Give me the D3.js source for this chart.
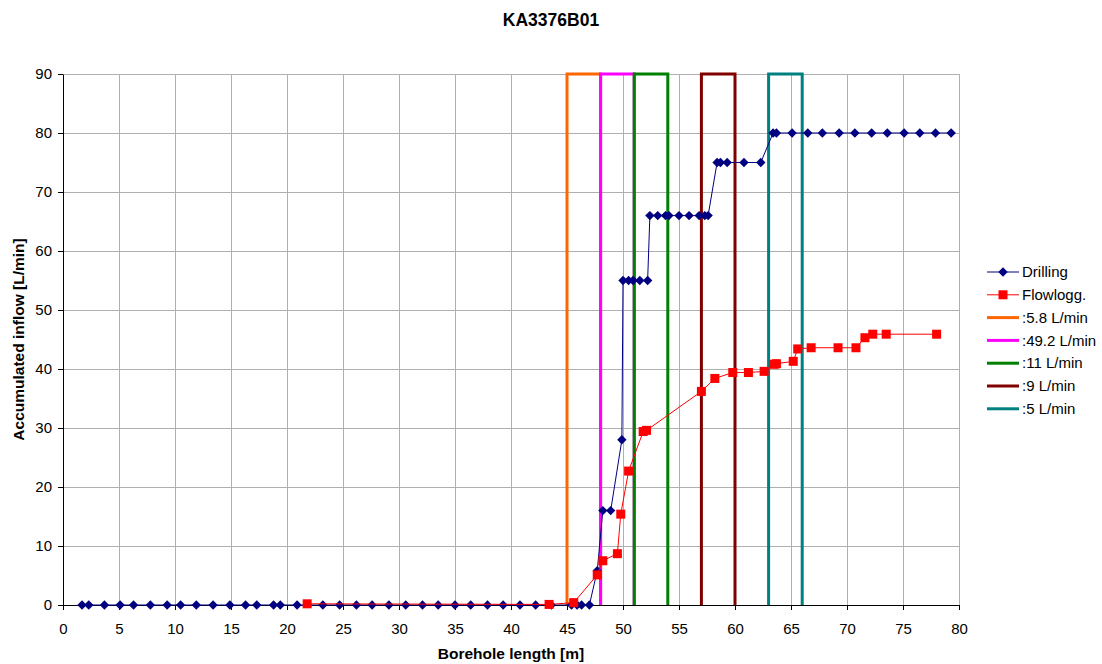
<!DOCTYPE html>
<html>
<head>
<meta charset="utf-8">
<script src="https://cdn.jsdelivr.net/npm/d3@7"></script>
<style>
  html, body { margin: 0; padding: 0; background: #fff; }
  svg { display: block; font-family: "Liberation Sans", Arial, sans-serif; }
</style>
</head>
<body>
<svg id="chart" width="1102" height="664"></svg>
<script>
// Borehole KA3376B01: accumulated inflow measured while drilling and by flow logging
const chartTitle = "KA3376B01";

const drillLength = [1.7, 2.3, 3.7, 5.1, 6.3, 7.8, 9.3, 10.5, 11.9, 13.4, 14.9, 16.3, 17.3, 18.8, 19.4, 20.9,
  23.2, 24.7, 26.2, 27.6, 29.1, 30.6, 32.1, 33.5, 35.0, 36.4, 37.9, 39.3, 40.8, 42.2, 43.6, 45.4, 45.9, 46.3, 47.0,
  47.7, 48.2, 48.9, 49.9,
  50.0, 50.5, 50.9, 51.5, 52.2,
  52.4, 53.1, 53.8, 54.1, 55.0, 55.9, 56.8, 57.3, 57.6,
  58.4, 58.7, 59.3, 60.8, 62.3,
  63.4, 63.7, 65.1, 66.5, 67.8, 69.3, 70.7, 72.2, 73.6, 75.1, 76.5, 77.9, 79.3];
const drillInflow = [0, 0, 0, 0, 0, 0, 0, 0, 0, 0, 0, 0, 0, 0, 0, 0,
  0, 0, 0, 0, 0, 0, 0, 0, 0, 0, 0, 0, 0, 0, 0, 0, 0, 0, 0,
  5.8, 16, 16, 28,
  55, 55, 55, 55, 55,
  66, 66, 66, 66, 66, 66, 66, 66, 66,
  75, 75, 75, 75, 75,
  80, 80, 80, 80, 80, 80, 80, 80, 80, 80, 80, 80, 80];

const flowLength = [21.8, 43.4, 45.6, 47.7, 48.2, 49.5, 49.8, 50.5, 51.8, 52.1, 57.0, 58.2, 59.8, 61.2, 62.6,
  63.5, 63.7, 65.2, 65.6, 66.8, 69.2, 70.8, 71.6, 72.3, 73.5, 78.0];
const flowInflow = [0.2, 0.1, 0.4, 5.1, 7.5, 8.7, 15.4, 22.7, 29.4, 29.6, 36.2, 38.4, 39.4, 39.4, 39.6,
  40.8, 40.9, 41.3, 43.4, 43.6, 43.6, 43.6, 45.3, 45.9, 45.9, 45.9];

// Flowing sections (start/end length) and their inflow
const sectionStart = [45, 48, 51, 57, 63];
const sectionEnd = [48, 51, 54, 60, 66];
const sectionLabels = [":5.8 L/min", ":49.2 L/min", ":11 L/min", ":9 L/min", ":5 L/min"];
const sectionColors = ["#ff6600", "#ff00ff", "#008000", "#800000", "#008080"];

const xTicks = d3.range(0, 81, 5);
const yTicks = d3.range(0, 91, 10);
const xMax = 80, yMax = 90;

const svg = d3.select("#chart");
const plot = { left: 63, right: 959, top: 74, bottom: 605 };

const x = d3.scaleLinear().domain([0, xMax]).range([plot.left, plot.right]);
const y = d3.scaleLinear().domain([0, yMax]).range([plot.bottom, plot.top]);

// grid
const grid = svg.append("g").attr("stroke", "#b0b0b0").attr("stroke-width", 1).attr("shape-rendering", "crispEdges");
grid.selectAll("line.v").data(xTicks.filter(d => d > 0)).join("line")
  .attr("x1", d => Math.round(x(d)) + 0.5).attr("x2", d => Math.round(x(d)) + 0.5)
  .attr("y1", plot.top).attr("y2", plot.bottom);
grid.selectAll("line.h").data(yTicks.filter(d => d > 0)).join("line")
  .attr("x1", plot.left).attr("x2", plot.right)
  .attr("y1", d => Math.round(y(d)) + 0.5).attr("y2", d => Math.round(y(d)) + 0.5);

// axes
const xAxis = svg.append("g").attr("transform", `translate(0,${plot.bottom})`)
  .call(d3.axisBottom(x).tickValues(xTicks).tickSize(5).tickPadding(13).tickSizeOuter(0));
const yAxis = svg.append("g").attr("transform", `translate(${plot.left},0)`)
  .call(d3.axisLeft(y).tickValues(yTicks).tickSize(5).tickPadding(6).tickSizeOuter(0));
[xAxis, yAxis].forEach(a => {
  a.selectAll("path, line").attr("stroke", "#000").attr("stroke-width", 1);
  a.selectAll("text").attr("font-size", 15).attr("fill", "#000")
    .attr("font-family", "'Liberation Sans', Arial, sans-serif");
});

// flowing sections drawn as open boxes reaching the top of the axis
const sections = sectionStart.map((s, i) => ({ s, e: sectionEnd[i], color: sectionColors[i], label: sectionLabels[i] }));
svg.append("g").selectAll("path").data(sections).join("path")
  .attr("fill", "none").attr("stroke", d => d.color).attr("stroke-width", 3)
  .attr("d", d => d3.line()([[x(d.s), y(0)], [x(d.s), y(yMax)], [x(d.e), y(yMax)], [x(d.e), y(0)]]));

// drilling series
const drill = drillLength.map((l, i) => [l, drillInflow[i]]);
const flow = flowLength.map((l, i) => [l, flowInflow[i]]);
const line = d3.line().x(d => x(d[0])).y(d => y(d[1]));

svg.append("path").datum(drill).attr("fill", "none").attr("stroke", "#000080").attr("stroke-width", 1).attr("d", line);
const diamond = r => `M0,${-r}L${r},0L0,${r}L${-r},0Z`;
svg.append("g").selectAll("path").data(drill).join("path")
  .attr("transform", d => `translate(${x(d[0])},${y(d[1])})`)
  .attr("d", diamond(4.7)).attr("fill", "#000080");

// flow logging series
svg.append("path").datum(flow).attr("fill", "none").attr("stroke", "#ff0000").attr("stroke-width", 1).attr("d", line);
svg.append("g").selectAll("rect").data(flow).join("rect")
  .attr("x", d => x(d[0]) - 4.5).attr("y", d => y(d[1]) - 4.5)
  .attr("width", 9).attr("height", 9).attr("fill", "#ff0000");

// titles
svg.append("text").attr("x", 551).attr("y", 26).attr("text-anchor", "middle")
  .attr("font-size", 17.5).attr("font-weight", "bold").text(chartTitle);
svg.append("text").attr("x", (plot.left + plot.right) / 2).attr("y", 659).attr("text-anchor", "middle")
  .attr("font-size", 15.5).attr("font-weight", "bold").text("Borehole length [m]");
svg.append("text").attr("transform", `translate(24,${(plot.top + plot.bottom) / 2}) rotate(-90)`)
  .attr("text-anchor", "middle").attr("font-size", 15.5).attr("font-weight", "bold")
  .text("Accumulated inflow [L/min]");

// legend
const legendItems = [
  { label: "Drilling", color: "#000080", marker: "diamond", width: 1 },
  { label: "Flowlogg.", color: "#ff0000", marker: "square", width: 1 },
  ...sections.map(d => ({ label: d.label, color: d.color, marker: null, width: 3 }))
];
const lg = svg.append("g").selectAll("g").data(legendItems).join("g")
  .attr("transform", (d, i) => `translate(987,${272 + i * 22.8})`);
lg.append("line").attr("x1", 0).attr("x2", 32).attr("y1", 0).attr("y2", 0)
  .attr("stroke", d => d.color).attr("stroke-width", d => d.width);
lg.filter(d => d.marker === "diamond").append("path").attr("transform", "translate(16,0)")
  .attr("d", diamond(4.7)).attr("fill", d => d.color);
lg.filter(d => d.marker === "square").append("rect").attr("x", 16 - 4.5).attr("y", -4.5)
  .attr("width", 9).attr("height", 9).attr("fill", d => d.color);
lg.append("text").attr("x", 35).attr("y", 0).attr("dy", "0.35em").attr("font-size", 15).text(d => d.label);
</script>
</body>
</html>
